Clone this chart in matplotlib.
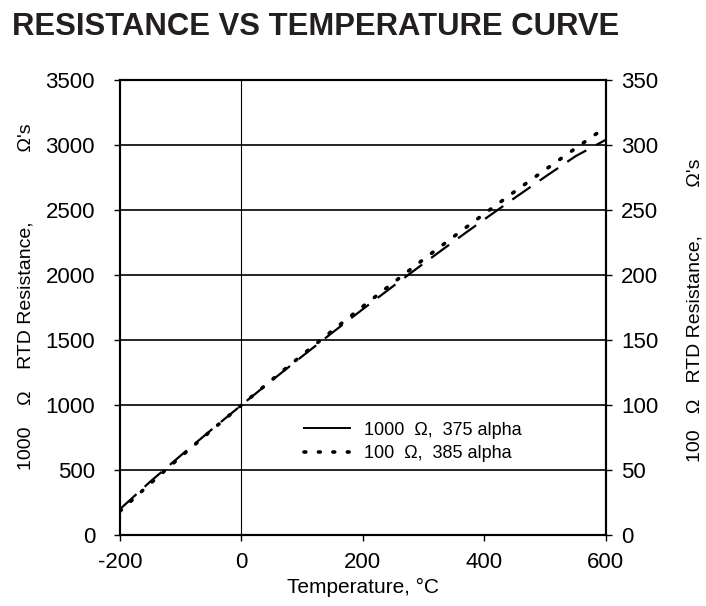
import matplotlib
matplotlib.use('Agg')
import matplotlib.pyplot as plt
from matplotlib.lines import Line2D

plt.rcParams['font.family'] = ['Liberation Sans', 'DejaVu Sans']
plt.rcParams['axes.unicode_minus'] = False

# values
temp_c = [-200, -150, -100, -50, 0, 50, 100, 150, 200, 250, 300, 350, 400, 450, 500, 550, 600]
r_1000_375 = [200, 412, 612, 808, 1000, 1189, 1375, 1558, 1738, 1915, 2089, 2260, 2428, 2593, 2755, 2913, 3040]
r_100_385 = [18.5, 39.7, 60.3, 80.3, 100, 119.4, 138.5, 157.3, 175.9, 194.1, 212.1, 229.7, 247.1, 264.2, 280.9, 297.4, 313.7]

left_ticks = [0, 500, 1000, 1500, 2000, 2500, 3000, 3500]
right_ticks = [0, 50, 100, 150, 200, 250, 300, 350]
x_ticks = [-200, 0, 200, 400, 600]

fig = plt.figure(figsize=(7.06, 6.06), dpi=100)
ax = fig.add_axes([0.170, 0.117, 0.688, 0.751])

ax.plot(temp_c, r_1000_375, color='black', lw=1.6, linestyle=(0, (10, 5)))
ax.set_xlim(-200, 600)
ax.set_ylim(0, 3500)
ax.set_xticks(x_ticks)
ax.set_yticks(left_ticks)
for y in left_ticks[1:-1]:
    ax.axhline(y, color='black', lw=1.2, zorder=1)
ax.axvline(0, color='black', lw=0.8, zorder=1)

ax2 = ax.twinx()
ax2.plot(temp_c, r_100_385, color='black', lw=2.6, linestyle=(0, (0.5, 3.5)),
         dash_capstyle='round')
ax2.set_ylim(0, 350)
ax2.set_yticks(right_ticks)

for a in (ax, ax2):
    for s in a.spines.values():
        s.set_linewidth(1.5)
    a.tick_params(direction='out', length=4, width=1, labelsize=16)
ax.tick_params(axis='y', pad=14)
ax.tick_params(axis='x', pad=8)
ax2.tick_params(axis='y', pad=7)

ax.set_xlabel('Temperature, °C', fontsize=15, labelpad=4)
fig.text(26 / 706, 1 - 297 / 606, '1000    Ω    RTD Resistance,' + ' ' * 13 + 'Ω\'s',
         rotation=90, fontsize=14, ha='center', va='center')
fig.text(695 / 706, 1 - 310 / 606, '100   Ω   RTD Resistance,' + ' ' * 9 + 'Ω\'s',
         rotation=90, fontsize=14, ha='center', va='center')

handles = [Line2D([], [], color='black', lw=1.4),
           Line2D([], [], color='black', lw=2.6, linestyle=(0, (0.5, 3.5)), dash_capstyle='round')]
ax.legend(handles, ['1000  Ω,  375 alpha', '100  Ω,  385 alpha'],
          loc='upper left', bbox_to_anchor=(0.345, 0.285), frameon=False,
          fontsize=13, handlelength=2.55, handletextpad=0.8, labelspacing=0.35)

fig.text(0.017, 1 - 35 / 606, 'RESISTANCE VS TEMPERATURE CURVE',
         fontsize=22.3, fontweight='bold', va='baseline', color='#231f20')

fig.savefig('out.png', dpi=100)
